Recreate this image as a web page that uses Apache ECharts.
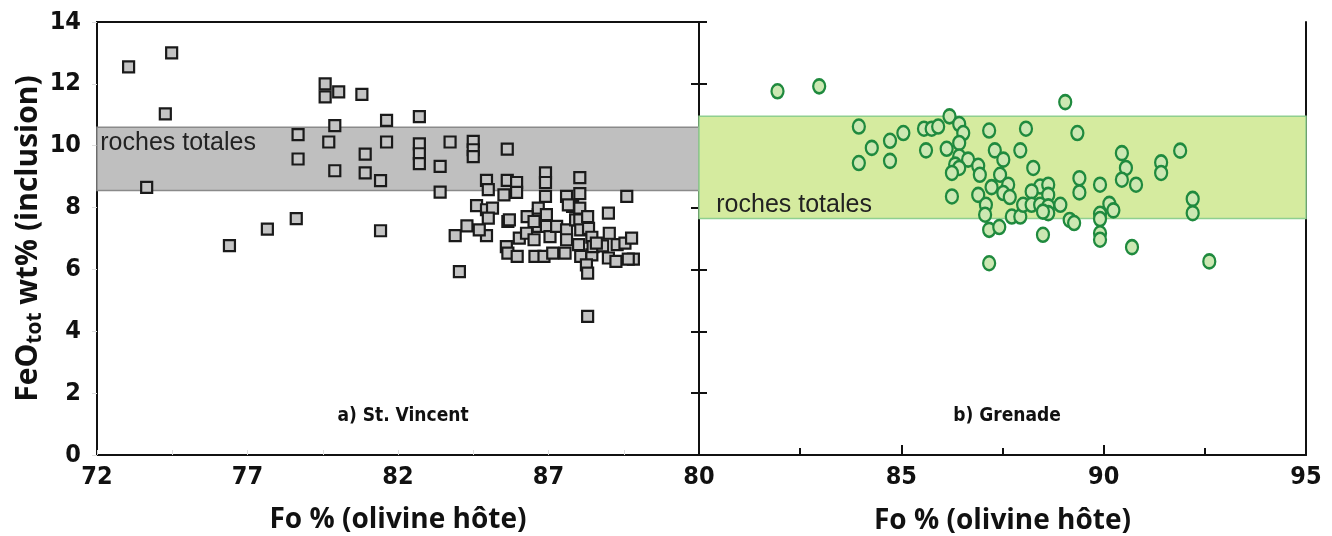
<!DOCTYPE html>
<html>
<head>
<meta charset="utf-8">
<script src="https://cdn.jsdelivr.net/npm/echarts@6/dist/echarts.min.js"></script>
<style>
  html, body { margin: 0; padding: 0; background: #fff; }
  #chart { width: 1332px; height: 536px; }
</style>
</head>
<body>
<div id="chart"></div>
<script>
// St. Vincent : [Fo %, FeOtot]
const stVincent = [
  [73.05, 12.55], [74.48, 13.0], [74.27, 11.03], [73.65, 8.65], [76.4, 6.77],
  [77.66, 7.3], [78.62, 7.64], [78.68, 10.36], [78.68, 9.57], [79.58, 12.0],
  [79.58, 11.58], [80.03, 11.74], [79.9, 10.65], [79.7, 10.12], [79.9, 9.19],
  [80.8, 11.66], [80.91, 9.73], [80.91, 9.12], [81.42, 8.87], [81.42, 7.25],
  [81.62, 10.82], [81.62, 10.12], [82.71, 10.94], [82.71, 10.06], [82.71, 9.74],
  [82.71, 9.42], [83.73, 10.12], [84.5, 10.14], [84.5, 9.87], [84.5, 9.65],
  [85.63, 9.89], [83.4, 9.33], [83.4, 8.5], [84.94, 8.88], [85.0, 8.58],
  [85.63, 8.88], [85.94, 8.81], [85.94, 8.49], [85.52, 8.41], [86.9, 9.12],
  [86.9, 8.81], [86.9, 8.36], [88.04, 8.97], [88.04, 8.45], [87.6, 8.36],
  [89.6, 8.36], [84.61, 8.06], [84.94, 7.93], [85.14, 7.98], [85.0, 7.66],
  [84.29, 7.41], [83.9, 7.09], [84.94, 7.09], [84.7, 7.28], [85.65, 7.55],
  [85.7, 7.6], [84.04, 5.93], [88.3, 4.48], [85.6, 6.74], [85.65, 6.53],
  [85.96, 6.42], [86.03, 7.01], [86.27, 7.17], [86.55, 6.42], [86.52, 6.96],
  [86.85, 6.42], [86.66, 7.77], [86.66, 7.39], [86.66, 7.98], [86.93, 7.77],
  [86.93, 7.39], [87.05, 7.06], [87.14, 6.53], [87.27, 7.39], [87.6, 7.28],
  [87.6, 6.96], [87.55, 6.53], [87.8, 8.04], [87.9, 7.6], [88.04, 7.98],
  [88.04, 7.6], [88.07, 7.28], [88.0, 6.8], [88.07, 6.42], [88.3, 7.71],
  [88.33, 7.33], [88.44, 7.04], [88.44, 6.47], [88.26, 6.15], [88.3, 5.88],
  [88.48, 6.74], [88.8, 6.76], [88.99, 7.82], [89.02, 7.17], [88.99, 6.37],
  [89.24, 6.26], [89.28, 6.8], [89.54, 6.85], [89.76, 7.01], [89.82, 6.33],
  [89.65, 6.33], [86.29, 7.71], [86.52, 7.55], [88.59, 6.85], [87.66, 8.09]
];

// Grenade : [Fo %, FeOtot]
const grenade = [
  [81.94, 11.76], [82.97, 11.92], [83.95, 10.62], [83.95, 9.44], [84.27, 9.93],
  [84.72, 10.16], [84.72, 9.51], [85.05, 10.41], [85.56, 10.55], [85.75, 10.55],
  [85.91, 10.62], [85.61, 9.85], [86.19, 10.95], [86.43, 10.7], [86.53, 10.41],
  [86.12, 9.9], [86.43, 10.09], [86.43, 9.65], [86.65, 9.55], [86.33, 9.39],
  [86.43, 9.28], [86.25, 9.12], [86.25, 8.36], [86.9, 9.35], [86.94, 9.06],
  [86.9, 8.41], [87.17, 10.49], [87.31, 9.85], [87.52, 9.55], [87.44, 9.06],
  [87.64, 8.74], [87.23, 8.66], [87.52, 8.47], [87.68, 8.34], [87.09, 8.09],
  [87.07, 7.77], [87.17, 7.28], [87.42, 7.37], [87.17, 6.2], [87.73, 7.71],
  [87.94, 7.71], [87.94, 9.85], [88.01, 8.09], [88.08, 10.55], [89.05, 11.41],
  [89.35, 10.41], [88.26, 9.28], [88.43, 8.68], [88.63, 8.74], [88.63, 8.41],
  [88.22, 8.52], [88.22, 8.09], [88.43, 8.09], [88.63, 8.04], [88.63, 7.82],
  [88.5, 7.87], [88.93, 8.09], [88.5, 7.12], [89.16, 7.6], [89.27, 7.5],
  [89.4, 8.95], [89.4, 8.49], [89.91, 8.74], [89.91, 7.8], [89.91, 7.63],
  [89.91, 7.17], [89.91, 6.96], [90.14, 8.12], [90.24, 7.91], [90.45, 9.76],
  [90.55, 9.28], [90.45, 8.9], [90.8, 8.74], [90.7, 6.72], [91.42, 9.46],
  [91.42, 9.12], [91.89, 9.84], [92.2, 8.28], [92.2, 7.82], [92.61, 6.26]
];

// whole-rock ranges (roches totales)
const bandStVincent = [8.55, 10.6];
const bandGrenade = [7.65, 10.95];

const narrow = '"Liberation Sans Narrow", "DejaVu Sans Condensed", "Arial Narrow", sans-serif';
const titleFont = '"Open Sans", "Noto Sans", sans-serif';

const chart = echarts.init(document.getElementById('chart'));

const tickLabel = {
  color: '#111',
  fontFamily: narrow,
  fontWeight: 'bold',
  fontSize: 25,
};

const axisTitle = { fontFamily: titleFont, fontWeight: 'bold', fontSize: 28, color: '#111' };
const yTitle = { fontFamily: titleFont, fontWeight: 'bold', fontSize: 30, color: '#111' };

const option = {
  animation: false,
  backgroundColor: '#fff',
  title: [
    {
      text: 'a) St. Vincent',
      left: 398, top: 402, textAlign: 'center',
      textStyle: { fontFamily: narrow, fontWeight: 'bold', fontSize: 19, color: '#111' },
    },
    {
      text: 'b) Grenade',
      left: 1002, top: 402, textAlign: 'center',
      textStyle: { fontFamily: narrow, fontWeight: 'bold', fontSize: 19, color: '#111' },
    },
  ],
  grid: [
    { left: 97, right: 633, top: 22, bottom: 81, outerBoundsMode: 'none', containLabel: false,
      show: true, borderColor: '#111', borderWidth: 2, backgroundColor: 'transparent' },
    { left: 699, right: 26, top: 22, bottom: 81, outerBoundsMode: 'none', containLabel: false },
  ],
  xAxis: [
    {
      gridIndex: 0, type: 'value', min: 72, max: 92, interval: 5,
      splitLine: { show: false },
      axisLine: { lineStyle: { color: '#111', width: 2 } },
      axisTick: { inside: true, length: 5, lineStyle: { color: '#ddd' } },
      minorTick: { show: true, splitNumber: 2, length: 5, lineStyle: { color: '#ddd' } },
      axisLabel: Object.assign({ margin: 10, showMaxLabel: false,
        formatter: v => (v === 92 ? '' : v) }, tickLabel),
      name: 'Fo % (olivine hôte)', nameLocation: 'middle', nameGap: 51,
      nameTextStyle: axisTitle,
    },
    {
      gridIndex: 1, type: 'value', min: 80, max: 95, interval: 5,
      splitLine: { show: false },
      axisLine: { lineStyle: { color: '#111', width: 2 } },
      axisTick: { inside: true, length: 10, lineStyle: { color: '#111', width: 2 } },
      minorTick: { show: true, splitNumber: 2, length: 7, lineStyle: { color: '#111', width: 2 } },
      axisLabel: Object.assign({ margin: 10 }, tickLabel),
      name: 'Fo % (olivine hôte)', nameLocation: 'middle', nameGap: 52,
      nameTextStyle: axisTitle,
    },
  ],
  yAxis: [
    {
      gridIndex: 0, type: 'value', min: 0, max: 14, interval: 2,
      splitLine: { show: false },
      axisLine: { show: true, lineStyle: { color: '#111', width: 2 } },
      axisTick: { show: true, length: 5, lineStyle: { color: '#ddd' } },
      axisLabel: Object.assign({ margin: 16 }, tickLabel),
      name: '{m|FeO}{s|tot}{m| wt% (inclusion)}',
      nameLocation: 'middle', nameGap: 50, nameRotate: 90,
      nameTextStyle: {
        rich: {
          m: yTitle,
          s: { fontFamily: titleFont, fontWeight: 'bold', fontSize: 21, color: '#111', padding: [13, 0, 0, 0] },
        },
      },
    },
    {
      gridIndex: 1, type: 'value', min: 0, max: 14, interval: 2, offset: 0,
      splitLine: { show: false },
      axisLine: { show: true, lineStyle: { color: '#111', width: 2 } },
      axisTick: { show: true, length: 8, lineStyle: { color: '#111', width: 2 } },
      axisLabel: { show: false },
    },
    {
      gridIndex: 1, type: 'value', min: 0, max: 14, interval: 2, position: 'left', offset: 0,
      splitLine: { show: false },
      axisLine: { show: false },
      axisTick: { show: true, inside: true, length: 8, lineStyle: { color: '#111', width: 2 } },
      axisLabel: { show: false },
    },
    {
      gridIndex: 1, type: 'value', min: 0, max: 14, position: 'right', offset: 0,
      splitLine: { show: false },
      axisLine: { show: true, lineStyle: { color: '#111', width: 2 } },
      axisTick: { show: false },
      axisLabel: { show: false },
    },
  ],
  series: [
    {
      type: 'scatter',
      xAxisIndex: 0, yAxisIndex: 0,
      data: stVincent,
      symbol: 'rect',
      symbolSize: 11,
      itemStyle: { color: '#c4c4c4', borderColor: '#1a1a1a', borderWidth: 2.2, opacity: 1 },
      markArea: {
        silent: true,
        itemStyle: { color: '#bfbfbf', borderColor: '#8a8a8a', borderWidth: 1.5 },
        label: {
          show: true, position: 'insideTopLeft', distance: 4,
          fontFamily: '"Liberation Sans", Arial, sans-serif', fontSize: 25, color: '#222',
        },
        data: [[{ name: 'roches totales', yAxis: bandStVincent[0] }, { yAxis: bandStVincent[1] }]],
      },
    },
    {
      type: 'scatter',
      xAxisIndex: 1, yAxisIndex: 1,
      data: grenade,
      symbol: 'circle',
      symbolSize: [12, 14],
      itemStyle: { color: '#cce8b2', borderColor: '#1f8a3e', borderWidth: 2.4, opacity: 1 },
      markArea: {
        silent: true,
        itemStyle: { color: '#d5eb9f', borderColor: '#8fcf8f', borderWidth: 1.5 },
        label: {
          show: true, position: 'insideBottomLeft', distance: 2, offset: [16, 0],
          fontFamily: '"Liberation Sans", Arial, sans-serif', fontSize: 25, color: '#222',
        },
        data: [[{ name: 'roches totales', yAxis: bandGrenade[0] }, { yAxis: bandGrenade[1] }]],
      },
    },
  ],
};

chart.setOption(option);
</script>
</body>
</html>
